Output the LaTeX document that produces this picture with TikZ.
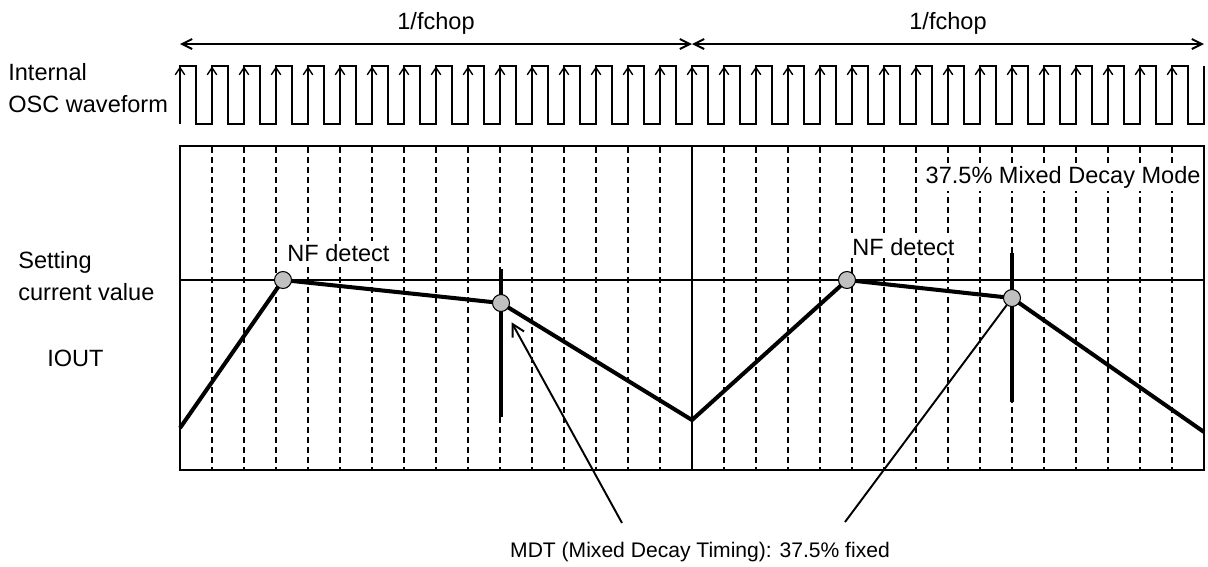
\documentclass[tikz,border=0pt]{standalone}
\usepackage{fontspec}
\setmainfont{Liberation Sans}
\usepackage{tikz}
\usetikzlibrary{arrows.meta}
\definecolor{dotgray}{HTML}{C0C0C0}

\begin{document}
\begin{tikzpicture}[x=0.02cm, y=-0.02cm, font=\fontsize{13.4}{16}\selectfont]
    \tikzstyle{lbl} = [inner sep=0pt, anchor=base west]
    \tikzstyle{clbl} = [inner sep=0pt, anchor=base]
    \tikzstyle{boxlbl} = [fill=white, inner sep=1.5pt, anchor=base west]
    \tikzstyle{wave} = [line width=1.4pt, line join=miter]
    \tikzstyle{edge} = [line width=0.8pt, -{Straight Barb[length=1.4mm, width=1.9mm]}]
    \tikzstyle{span} = [line width=1.1pt, {Straight Barb[length=2mm, width=2mm]}-{Straight Barb[length=2mm, width=2mm]}]
    \tikzstyle{frame} = [line width=0.6pt]
    \tikzstyle{tick} = [line width=0.6pt, dash pattern=on 0.12cm off 0.08cm]
    \tikzstyle{iout} = [line width=2.3pt]
    \tikzstyle{dot} = [circle, draw, fill=dotgray, line width=0.6pt, inner sep=0pt, minimum size=0.34cm]
    \tikzstyle{callout} = [line width=1.1pt]
    \useasboundingbox (0,0) rectangle (1208,566);

    \coordinate (t0) at (180,44);
    \coordinate (t1) at (692,44);
    \coordinate (t2) at (1204,44);
    \draw[span] (t0) -- (t1);
    \draw[span] (t1) -- (t2);
    \node[clbl] (fc1) at (436,29) {1/fchop};
    \node[clbl] (fc2) at (948,29) {1/fchop};

    \node[lbl] (int) at (8,80) {Internal};
    \node[lbl] (osc) at (8,112) {OSC waveform};
    \draw[wave] (180,124) \foreach \k in {0,...,31} { -- ++(0,-58) -- ++(16,0) -- ++(0,58) -- ++(16,0) } -- ++(0,-58);
    \foreach \k in {0,...,31} {
        \draw[edge] (180+32*\k,100) -- (180+32*\k,66.5);
    }

    \foreach \x in {212,244,...,660,724,756,...,1172} {
        \draw[tick] (\x,147) -- (\x,470);
    }
    \draw[frame] (180,146) rectangle (1204,470);
    \draw[frame] (692,146) -- (692,470);
    \draw[frame] (180,280) -- (1204,280);

    \node[lbl] (set) at (18,268) {Setting};
    \node[lbl] (cur) at (18,300) {current value};
    \node[lbl] (io) at (47,366) {IOUT};
    \node[fill=white, inner sep=1.5pt, anchor=base east] (mode) at (1203.5,183) {37.5\% Mixed Decay Mode};
    \node[boxlbl] (nft1) at (284.5,261) {NF detect};
    \node[boxlbl] (nft2) at (849.5,255) {NF detect};
    \node[clbl, font=\fontsize{12}{14}\selectfont] (mdt) at (700,557) {MDT (Mixed Decay Timing): 37.5\% fixed};

    \coordinate (s1) at (180,428);
    \coordinate (nf1) at (283,280);
    \coordinate (md1) at (501,303);
    \coordinate (v1) at (692,420);
    \coordinate (nf2) at (847,280);
    \coordinate (md2) at (1012,298);
    \coordinate (e2) at (1204,432);
    \coordinate (b1a) at (501,269);
    \coordinate (b1b) at (501,417);
    \coordinate (b2a) at (1012,253);
    \coordinate (b2b) at (1012,402);
    \draw[iout] (s1) -- (nf1) -- (md1) -- (v1) -- (nf2) -- (md2) -- (e2);
    \draw[iout] (b1a) -- (b1b);
    \draw[iout] (b2a) -- (b2b);

    \coordinate (p1) at (622,523);
    \coordinate (p2) at (845,522);
    \node[dot] (d1) at (nf1) {};
    \node[dot] (d2) at (md1) {};
    \node[dot] (d3) at (nf2) {};
    \node[dot] (d4) at (md2) {};
    \draw[callout, -{Straight Barb[length=2.4mm, width=2.6mm]}, shorten >=0.26cm] (p1) -- (d2);
    \draw[callout] (p2) -- (d4);
\end{tikzpicture}
\end{document}
